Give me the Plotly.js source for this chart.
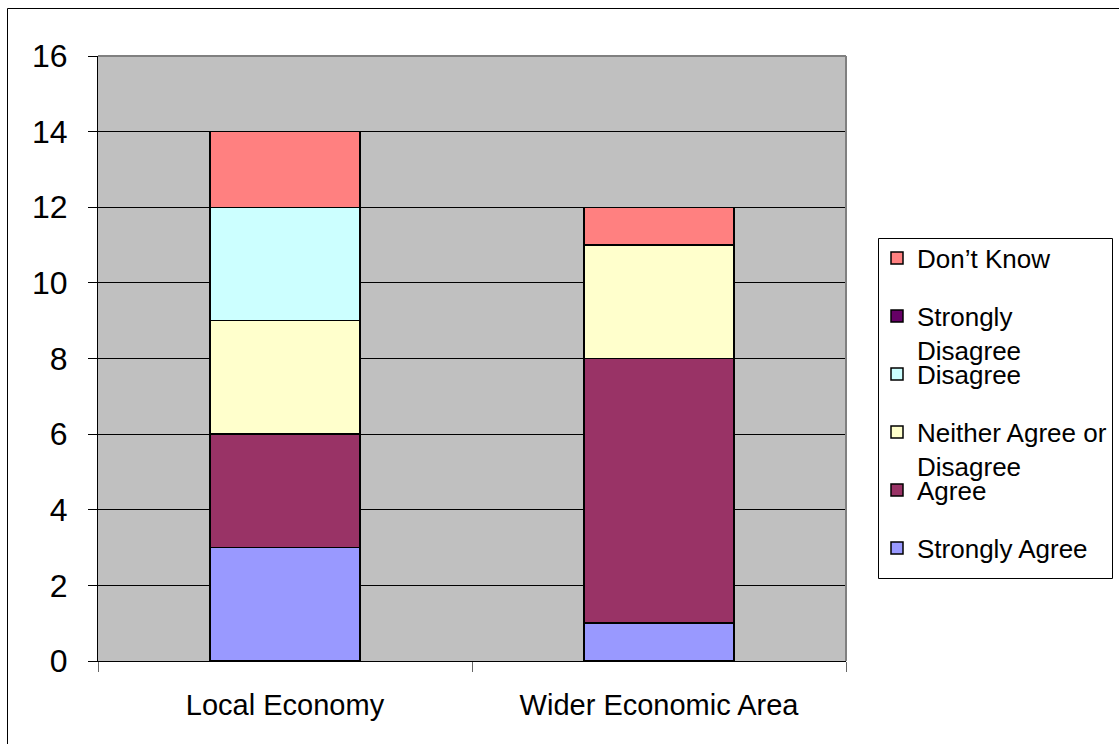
<!DOCTYPE html>
<html>
<head>
<meta charset="utf-8">
<script src="https://cdn.plot.ly/plotly-3.0.1.min.js"></script>
<style>
  html, body { margin: 0; padding: 0; background: #ffffff; }
  #chart { width: 1119px; height: 744px; }
</style>
</head>
<body>
<div id="chart"></div>
<script>
// ---- data ----
var categories = ["Local Economy", "Wider Economic Area"];
var seriesNames = ["Strongly Agree", "Agree", "Neither Agree or<br>Disagree", "Disagree", "Strongly<br>Disagree", "Don\u2019t Know"];
var stronglyAgree = [3, 1];
var agree = [3, 7];
var neither = [3, 3];
var disagree = [3, 0];
var stronglyDisagree = [0, 0];
var dontKnow = [2, 1];
var yTickValues = [0, 2, 4, 6, 8, 10, 12, 14, 16];

// ---- styles ----
var seriesValues = [stronglyAgree, agree, neither, disagree, stronglyDisagree, dontKnow];
var seriesColors = ["#9999FF", "#993366", "#FFFFCC", "#CCFFFF", "#660066", "#FF8080"];
var FONT = "Liberation Sans, Arial, sans-serif";

// geometry helpers (pixels -> paper)
var W = 1119, H = 744;
var M = {l: 98, r: 273, t: 56, b: 83, autoexpand: false};
var PW = W - M.l - M.r, PH = H - M.t - M.b;
function px(x) { return (x - M.l) / PW; }
function py(y) { return (H - M.b - y) / PH; }

var legendFont = 26;
var LH = legendFont * 1.3;
// legend symbol centres (top to bottom): Don't Know ... Strongly Agree
var legendCentres = [258, 316, 374, 432, 490, 548];

var traces = [];
var layoutLegends = {};
for (var i = 0; i < seriesValues.length; i++) {
  var slot = seriesValues.length - 1 - i; // Don't Know at top
  var key = slot === 0 ? "legend" : "legend" + (slot + 1);
  traces.push({
    type: "bar",
    name: seriesNames[i],
    x: categories,
    y: seriesValues[i],
    marker: {color: seriesColors[i], line: {color: "#000000", width: 1.5}},
    legend: key,
    hoverinfo: "name+y"
  });
  layoutLegends[key] = {
    x: px(877),
    xanchor: "left",
    y: py(legendCentres[slot] - 5 - (LH + 3) / 2),
    yanchor: "top",
    bgcolor: "rgba(0,0,0,0)",
    borderwidth: 0,
    valign: "top",
    font: {family: FONT, size: legendFont, color: "#000000"}
  };
}

var layout = {
  width: W,
  height: H,
  margin: M,
  paper_bgcolor: "#ffffff",
  plot_bgcolor: "#C0C0C0",
  barmode: "stack",
  bargap: 0.6,
  showlegend: true,
  font: {family: FONT, color: "#000000"},
  xaxis: {
    type: "category",
    showgrid: false,
    showline: true,
    linecolor: "#000000",
    linewidth: 1,
    ticks: "outside",
    tickson: "boundaries",
    ticklen: 10,
    tickcolor: "#666666",
    tickfont: {family: FONT, size: 29, color: "#000000"},
    ticklabelstandoff: 18,
    fixedrange: true
  },
  yaxis: {
    range: [0, 16],
    tickvals: yTickValues,
    ticktext: yTickValues.map(String),
    showgrid: true,
    gridcolor: "#000000",
    gridwidth: 1,
    zeroline: false,
    showline: true,
    linecolor: "#000000",
    linewidth: 1,
    ticks: "outside",
    ticklen: 9,
    tickcolor: "#000000",
    tickfont: {family: FONT, size: 32, color: "#000000"},
    ticklabelstandoff: 14,
    fixedrange: true
  },
  shapes: [
    // plot area border (top, right) in grey
    {type: "line", xref: "paper", yref: "paper", x0: 0, x1: 1, y0: 1, y1: 1,
     line: {color: "#808080", width: 2}},
    {type: "line", xref: "paper", yref: "paper", x0: 1, x1: 1, y0: 0, y1: 1,
     line: {color: "#808080", width: 2}},
    // legend box
    {type: "rect", xref: "paper", yref: "paper",
     x0: px(878.5), x1: px(1112.5), y0: py(578.5), y1: py(238.5),
     line: {color: "#000000", width: 1}, fillcolor: "rgba(0,0,0,0)"},
    // outer chart frame
    {type: "rect", xref: "paper", yref: "paper",
     x0: px(7.5), x1: px(1300), y0: py(900), y1: py(8.5),
     line: {color: "#000000", width: 1}, fillcolor: "rgba(0,0,0,0)"}
  ]
};
for (var k in layoutLegends) { layout[k] = layoutLegends[k]; }

Plotly.newPlot("chart", traces, layout, {displayModeBar: false, staticPlot: true});
</script>
</body>
</html>
